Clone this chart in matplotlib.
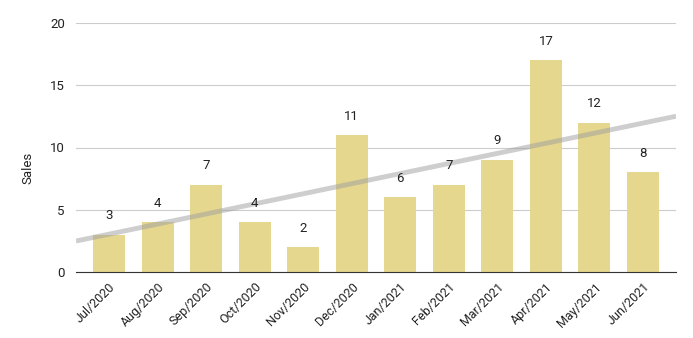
import numpy as np
import matplotlib.pyplot as plt

plt.rcParams['font.family'] = ['Roboto', 'DejaVu Sans']

meses = ["Jul/2020", "Aug/2020", "Sep/2020", "Oct/2020", "Nov/2020", "Dec/2020",
         "Jan/2021", "Feb/2021", "Mar/2021", "Apr/2021", "May/2021", "Jun/2021"]
vendas = [3, 4, 7, 4, 2, 11, 6, 7, 9, 17, 12, 8]

fig = plt.figure(figsize=(6.93, 3.38), dpi=100)
ax = fig.add_axes([76/693, 66/338, 600/693, 249/338])

x = np.arange(len(meses))
ax.bar(x, vendas, width=0.66, color='#e6d78f', zorder=2)

# linha de tendencia (regressao linear)
xlim = (-0.68, 11.68)
a, b = np.polyfit(x, vendas, 1)
xt = np.array(xlim)
ax.plot(xt, a*xt + b, color='#9e9e9e', alpha=0.5, linewidth=3.5, zorder=3,
        solid_capstyle='butt')

for xi, v in zip(x, vendas):
    ax.annotate(str(v), (xi, v), xytext=(0, 9), textcoords='offset points',
                ha='center', va='bottom', fontsize=9.5, color='#222222')

ax.set_xlim(xlim)
ax.set_ylim(0, 20)
ax.set_yticks([0, 5, 10, 15, 20])
ax.set_xticks(x)
ax.set_xticklabels(meses, rotation=45, ha='right', rotation_mode='anchor',
                   fontsize=9, color='#222222')
ax.tick_params(axis='y', labelsize=9.5, labelcolor='#222222', length=0, pad=8)
ax.tick_params(axis='x', length=0, pad=6)
ax.grid(axis='y', color='#cccccc', linewidth=0.8, zorder=0)
for s in ['top', 'right', 'left']:
    ax.spines[s].set_visible(False)
ax.spines['bottom'].set_color('#333333')
ax.spines['bottom'].set_zorder(4)
ax.set_ylabel('Sales', fontsize=9.5, color='#222222')
ax.yaxis.set_label_coords(-0.07, 0.42)

plt.savefig('out.png', dpi=100)
